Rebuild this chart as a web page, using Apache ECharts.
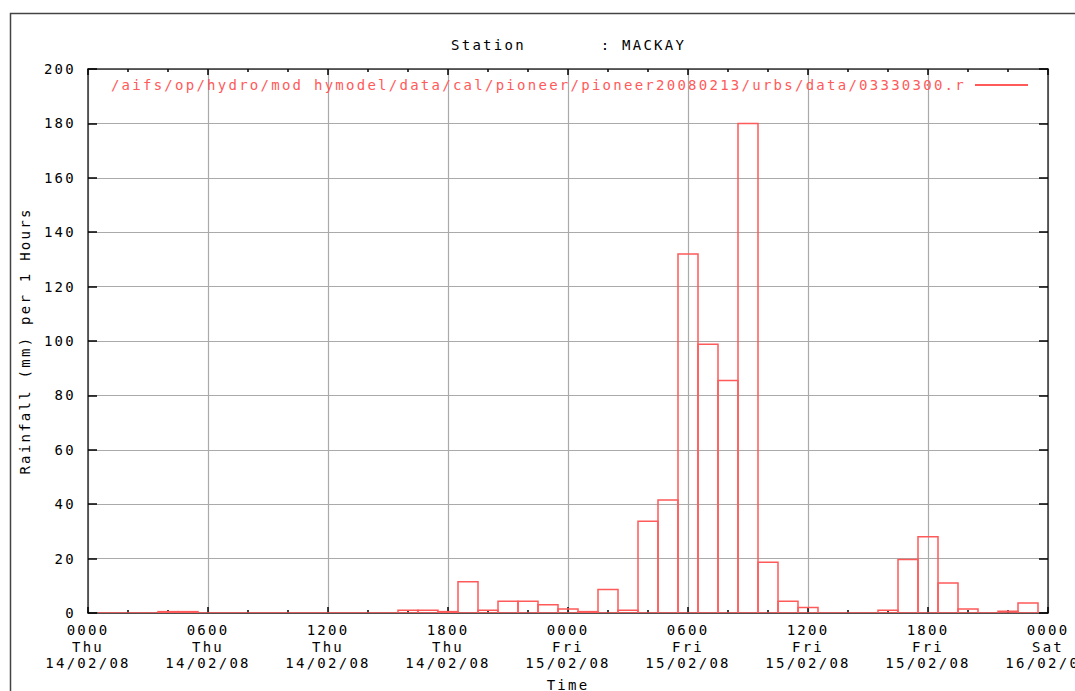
<!DOCTYPE html>
<html>
<head>
<meta charset="utf-8">
<script src="https://cdn.jsdelivr.net/npm/echarts@6/dist/echarts.min.js"></script>
<style>
  html, body { margin: 0; padding: 0; background: #fff; }
  #chart { width: 1075px; height: 691px; }
  /* gnuplot-style wide pixel font */
  #chart text { letter-spacing: 2.26px; }
</style>
</head>
<body>
<div id="chart"></div>
<script>
// hours since 0000 Thu 14/02/08
const hours = [1, 2, 3, 4, 5, 6, 7, 8, 9, 10, 11, 12, 13, 14, 15, 16, 17, 18, 19, 20,
  21, 22, 23, 24, 25, 26, 27, 28, 29, 30, 31, 32, 33, 34, 35, 36, 37, 38, 39, 40,
  41, 42, 43, 44, 45, 46, 47];
// rainfall (mm) per 1 hour
const rainfall = [0, 0, 0, 0.5, 0.5, 0, 0, 0, 0, 0, 0, 0, 0, 0, 0, 1, 1, 0.5, 11.5, 1,
  4.3, 4.3, 3, 1.5, 0.5, 8.6, 1, 33.7, 41.5, 132, 98.8, 85.5, 180, 18.7, 4.3, 2, 0, 0, 0, 1,
  19.7, 28, 11, 1.5, 0, 0.6, 3.7];
const xTickLabels = [
  '0000\nThu\n14/02/08', '0600\nThu\n14/02/08', '1200\nThu\n14/02/08', '1800\nThu\n14/02/08',
  '0000\nFri\n15/02/08', '0600\nFri\n15/02/08', '1200\nFri\n15/02/08', '1800\nFri\n15/02/08',
  '0000\nSat\n16/02/08'
];
const seriesName = '/aifs/op/hydro/mod hymodel/data/cal/pioneer/pioneer20080213/urbs/data/03330300.r';

const RED = '#ff5a5a';
const FONT = 'DejaVu Sans Mono';

const chart = echarts.init(document.getElementById('chart'), null, { renderer: 'svg' });

const data = hours.map((h, i) => [h, rainfall[i]]);

const tickStyle = { color: '#000', width: 1.5 };

const option = {
  backgroundColor: '#fff',
  animation: false,
  title: {
    text: 'Station       : MACKAY',
    left: 446,
    top: 32,
    textStyle: { fontFamily: FONT, fontSize: 14, fontWeight: 'normal', color: '#000', lineHeight: 16 }
  },
  legend: {
    data: [seriesName],
    right: 42,
    top: 73,
    align: 'right',
    icon: 'rect',
    itemWidth: 53,
    itemHeight: 2,
    textStyle: { fontFamily: FONT, fontSize: 14, color: RED, padding: [0, 4, 0, 0] }
  },
  grid: { left: 88, right: 27, top: 69, bottom: 78, outerBoundsMode: 'none' },
  xAxis: [
    {
      type: 'value',
      min: 0,
      max: 48,
      interval: 6,
      name: 'Time',
      nameLocation: 'middle',
      nameGap: 65,
      nameTextStyle: { fontFamily: FONT, fontSize: 14, color: '#000' },
      axisLine: { show: true, onZero: false, lineStyle: { color: '#333', width: 1.5 } },
      // negative length: ticks point into the plot, like gnuplot
      axisTick: { show: true, inside: false, length: -6, lineStyle: tickStyle },
      minorTick: { show: true, splitNumber: 3, length: -3, lineStyle: tickStyle },
      axisLabel: {
        margin: 9,
        fontFamily: FONT,
        fontSize: 14,
        lineHeight: 16.5,
        color: '#000',
        showMinLabel: true,
        showMaxLabel: true,
        formatter: v => xTickLabels[Math.round(v / 6)]
      },
      splitLine: { show: true, lineStyle: { color: '#aaa', width: 1.2 } }
    },
    {
      type: 'value',
      position: 'top',
      min: 0,
      max: 48,
      interval: 6,
      axisLine: { show: true, onZero: false, lineStyle: { color: '#333', width: 1.5 } },
      axisTick: { show: true, inside: true, length: 6, lineStyle: tickStyle },
      minorTick: { show: true, splitNumber: 3, length: 3, lineStyle: tickStyle },
      axisLabel: { show: false },
      splitLine: { show: false }
    }
  ],
  yAxis: [
    {
      type: 'value',
      min: 0,
      max: 200,
      interval: 20,
      name: 'Rainfall (mm) per 1 Hours',
      nameLocation: 'middle',
      nameGap: 56,
      nameTextStyle: { fontFamily: FONT, fontSize: 14, color: '#000' },
      axisLine: { show: true, onZero: false, lineStyle: { color: '#333', width: 1.5 } },
      axisTick: { show: true, inside: false, length: -9, lineStyle: tickStyle },
      axisLabel: { margin: 12, fontFamily: FONT, fontSize: 14, color: '#000' },
      splitLine: { show: true, lineStyle: { color: '#aaa', width: 1.2 } }
    },
    {
      type: 'value',
      position: 'right',
      min: 0,
      max: 200,
      interval: 20,
      axisLine: { show: true, onZero: false, lineStyle: { color: '#333', width: 1.5 } },
      axisTick: { show: true, inside: true, length: 9, lineStyle: tickStyle },
      axisLabel: { show: false },
      splitLine: { show: false }
    }
  ],
  series: [
    {
      name: seriesName,
      type: 'custom',
      xAxisIndex: 0,
      yAxisIndex: 0,
      clip: true,
      z: 5,
      itemStyle: { color: RED },
      encode: { x: 0, y: 1 },
      data: data,
      renderItem: function (params, api) {
        const h = api.value(0);
        const v = api.value(1);
        // outlined box, one hour wide, centred on the hour
        const a = api.coord([h - 0.5, 0]);
        const b = api.coord([h - 0.5, v]);
        const c = api.coord([h + 0.5, v]);
        const d = api.coord([h + 0.5, 0]);
        return {
          type: 'polygon',
          shape: { points: [a, b, c, d] },
          style: { fill: 'none', stroke: RED, lineWidth: 1.5 }
        };
      }
    }
  ],
  graphic: [
    {
      type: 'rect',
      left: 8,
      top: 11,
      shape: { x: 0, y: 0, width: 1100, height: 720 },
      style: { fill: 'none', stroke: '#444', lineWidth: 1.5 },
      silent: true,
      z: -1
    }
  ]
};

chart.setOption(option);
</script>
</body>
</html>
